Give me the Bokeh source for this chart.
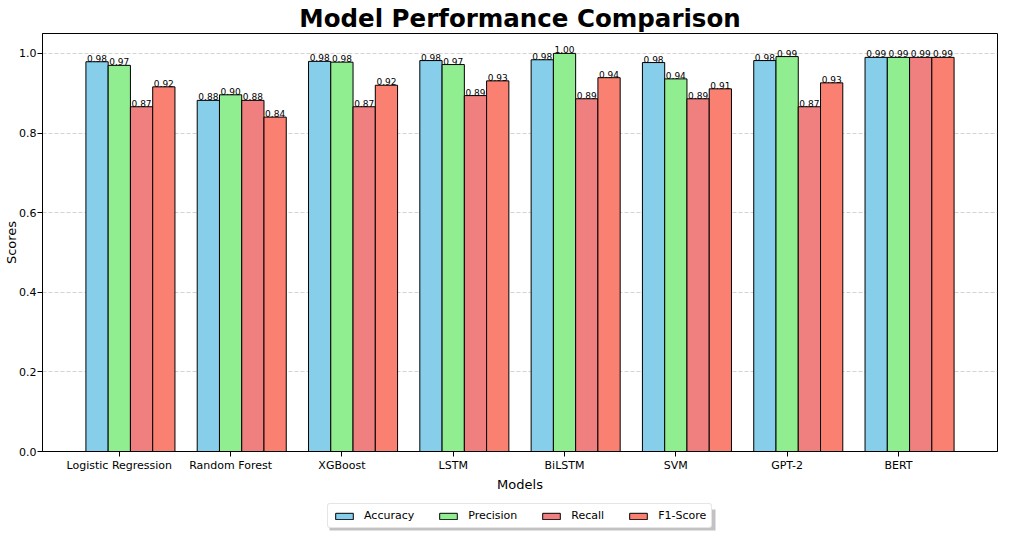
from bokeh.plotting import figure
from bokeh.layouts import column
from bokeh.models import ColumnDataSource, FixedTicker, Range1d, Legend, LegendItem, NumeralTickFormatter
from bokeh.transform import dodge
from bokeh.core.properties import value
from bokeh.embed import file_html
from bokeh.resources import INLINE

models = ["Logistic Regression", "Random Forest", "XGBoost", "LSTM", "BiLSTM", "SVM", "GPT-2", "BERT"]
accuracy = [0.979, 0.882, 0.980, 0.982, 0.984, 0.977, 0.982, 0.990]
precision = [0.970, 0.896, 0.978, 0.972, 1.000, 0.936, 0.992, 0.990]
recall = [0.866, 0.882, 0.866, 0.894, 0.886, 0.886, 0.866, 0.990]
f1_score = [0.916, 0.840, 0.920, 0.931, 0.939, 0.911, 0.926, 0.990]
y_ticks = [0.0, 0.2, 0.4, 0.6, 0.8, 1.0]

series = [("Accuracy", accuracy, "#87CEEB"),
          ("Precision", precision, "#90EE90"),
          ("Recall", recall, "#F08080"),
          ("F1-Score", f1_score, "#FA8072")]
offsets = [-0.2, 0.0, 0.2, 0.4]

FONT = "DejaVu Sans"

data = {"x": list(range(len(models)))}
for name, vals, _ in series:
    data[name] = vals
    data[name + "_lbl"] = [f"{v:.2f}" for v in vals]
src = ColumnDataSource(data)

# ---------------- main chart ----------------
p = figure(width=1024, height=500, output_backend="svg", toolbar_location=None,
           x_range=Range1d(-0.69, 7.89), y_range=Range1d(0, 1.05),
           title="Model Performance Comparison")
p.min_border_left = 42
p.min_border_right = 27
p.min_border_top = 32
p.min_border_bottom = 49

for (name, vals, color), off in zip(series, offsets):
    p.vbar(x=dodge("x", off), top=name, width=0.2, source=src,
           fill_color=color, line_color="black", line_width=1)
    p.text(x=dodge("x", off), y=name, text=name + "_lbl", source=src,
           text_align="center", text_baseline="bottom",
           text_font=value(FONT), text_font_size="9px", text_color="black")

p.title.text_font = FONT
p.title.text_font_size = "24.5px"
p.title.text_font_style = "bold"
p.title.align = "center"
p.title.standoff = 2
p.title.text_color = "black"

p.outline_line_color = "black"
p.outline_line_width = 1
p.xgrid.visible = False
p.ygrid.grid_line_color = "#b0b0b0"
p.ygrid.grid_line_alpha = 0.7
p.ygrid.grid_line_dash = "4 2"
p.ygrid.grid_line_width = 0.8

p.xaxis.ticker = FixedTicker(ticks=list(range(len(models))))
p.xaxis.major_label_overrides = {i: m for i, m in enumerate(models)}
p.yaxis.ticker = FixedTicker(ticks=y_ticks)
p.yaxis.formatter = NumeralTickFormatter(format="0.0")
for ax in (p.xaxis, p.yaxis):
    ax.major_tick_out = 5
    ax.major_tick_in = 0
    ax.minor_tick_out = 0
    ax.minor_tick_in = 0
    ax.axis_line_color = "black"
    ax.major_tick_line_color = "black"
    ax.major_label_text_font = FONT
    ax.major_label_text_font_size = "11px"
    ax.major_label_text_color = "black"
    ax.axis_label_text_font = FONT
    ax.axis_label_text_font_size = "13px"
    ax.axis_label_text_font_style = "normal"
    ax.axis_label_text_color = "black"
    ax.major_label_standoff = 2
    ax.axis_label_standoff = 2
p.yaxis.major_label_standoff = 1
p.yaxis.axis_label_standoff = -3
p.xaxis.axis_label = "Models"
p.yaxis.axis_label = "Scores"

# ---------------- legend strip ----------------
p2 = figure(width=1024, height=35, output_backend="svg", toolbar_location=None,
            x_range=Range1d(42, 997), y_range=Range1d(35, 0),
            x_axis_location=None, y_axis_location=None)
p2.min_border_left = 42
p2.min_border_right = 27
p2.min_border_top = 0
p2.min_border_bottom = 0
p2.outline_line_color = None
p2.grid.visible = False

# legend shadow (drawn behind the opaque legend box)
p2.quad(left=[329], right=[715], top=[9], bottom=[30],
        fill_color="#9a9a9a", fill_alpha=0.6, line_color=None)

# zero-size glyphs hidden under the legend box, only used for legend swatches
dummy = ColumnDataSource(dict(x=[520], top=[20], bottom=[20]))
items = []
for name, vals, color in series:
    r = p2.vbar(x="x", top="top", bottom="bottom", width=0.001, source=dummy,
                fill_color=color, line_color="black", line_width=1)
    items.append(LegendItem(label=name, renderers=[r]))

legend = Legend(items=items, orientation="horizontal", location=(285, 7))
legend.label_text_font = FONT
legend.label_text_font_size = "11px"
legend.label_text_color = "black"
legend.glyph_width = 22
legend.glyph_height = 8
legend.label_standoff = 9
legend.spacing = 23
legend.padding = 5
legend.margin = 0
legend.label_height = 11
legend.border_line_color = "#cccccc"
legend.border_line_width = 1
legend.background_fill_color = "white"
legend.background_fill_alpha = 1.0
try:
    legend.border_radius = 3
except Exception:
    pass
p2.add_layout(legend, "center")

layout = column(p, p2, spacing=0)
open("out.html", "w").write(file_html(layout, INLINE))
